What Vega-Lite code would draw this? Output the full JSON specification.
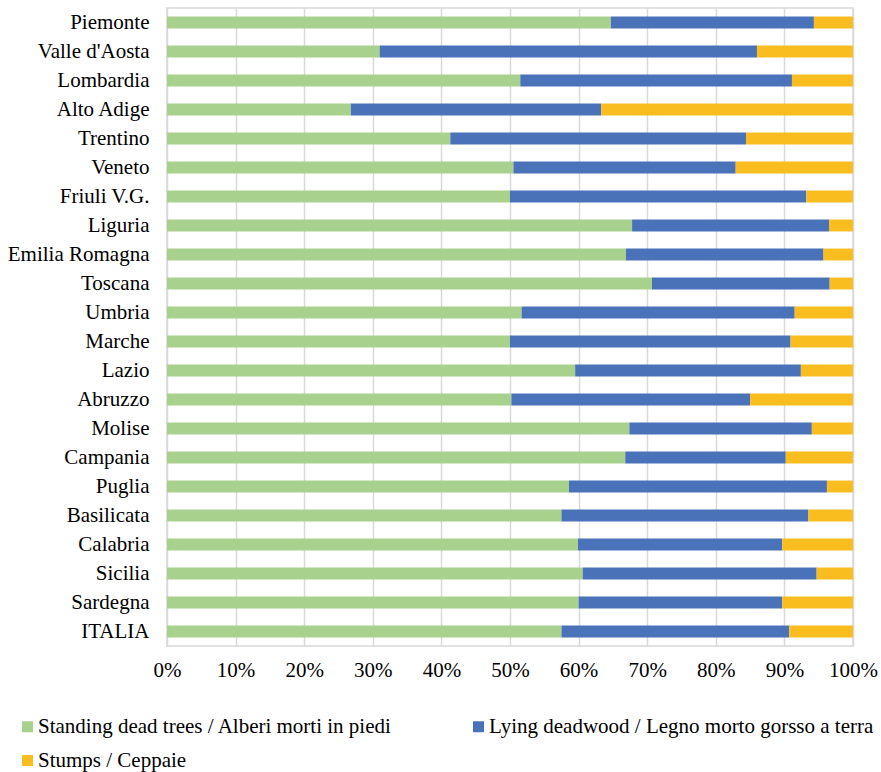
{
  "$schema": "https://vega.github.io/schema/vega-lite/v6.json",
  "width": 686,
  "height": 638,
  "autosize": "none",
  "padding": {"left": 167, "top": 8, "right": 28, "bottom": 126},
  "background": "white",
  "config": {
    "font": "Liberation Serif",
    "view": {"stroke": "#d9d9d9", "strokeWidth": 1.5}
  },
  "data": {
    "values": [
      {"r": "Piemonte", "t": "Standing dead trees / Alberi morti in piedi", "n": 1, "v": 64.7},
      {"r": "Piemonte", "t": "Lying deadwood / Legno morto gorsso a terra", "n": 2, "v": 29.6},
      {"r": "Piemonte", "t": "Stumps / Ceppaie", "n": 3, "v": 5.7},
      {"r": "Valle d'Aosta", "t": "Standing dead trees / Alberi morti in piedi", "n": 1, "v": 31.0},
      {"r": "Valle d'Aosta", "t": "Lying deadwood / Legno morto gorsso a terra", "n": 2, "v": 55.0},
      {"r": "Valle d'Aosta", "t": "Stumps / Ceppaie", "n": 3, "v": 14.0},
      {"r": "Lombardia", "t": "Standing dead trees / Alberi morti in piedi", "n": 1, "v": 51.5},
      {"r": "Lombardia", "t": "Lying deadwood / Legno morto gorsso a terra", "n": 2, "v": 39.6},
      {"r": "Lombardia", "t": "Stumps / Ceppaie", "n": 3, "v": 8.9},
      {"r": "Alto Adige", "t": "Standing dead trees / Alberi morti in piedi", "n": 1, "v": 26.8},
      {"r": "Alto Adige", "t": "Lying deadwood / Legno morto gorsso a terra", "n": 2, "v": 36.5},
      {"r": "Alto Adige", "t": "Stumps / Ceppaie", "n": 3, "v": 36.7},
      {"r": "Trentino", "t": "Standing dead trees / Alberi morti in piedi", "n": 1, "v": 41.3},
      {"r": "Trentino", "t": "Lying deadwood / Legno morto gorsso a terra", "n": 2, "v": 43.1},
      {"r": "Trentino", "t": "Stumps / Ceppaie", "n": 3, "v": 15.6},
      {"r": "Veneto", "t": "Standing dead trees / Alberi morti in piedi", "n": 1, "v": 50.5},
      {"r": "Veneto", "t": "Lying deadwood / Legno morto gorsso a terra", "n": 2, "v": 32.4},
      {"r": "Veneto", "t": "Stumps / Ceppaie", "n": 3, "v": 17.1},
      {"r": "Friuli V.G.", "t": "Standing dead trees / Alberi morti in piedi", "n": 1, "v": 50.0},
      {"r": "Friuli V.G.", "t": "Lying deadwood / Legno morto gorsso a terra", "n": 2, "v": 43.2},
      {"r": "Friuli V.G.", "t": "Stumps / Ceppaie", "n": 3, "v": 6.8},
      {"r": "Liguria", "t": "Standing dead trees / Alberi morti in piedi", "n": 1, "v": 67.8},
      {"r": "Liguria", "t": "Lying deadwood / Legno morto gorsso a terra", "n": 2, "v": 28.7},
      {"r": "Liguria", "t": "Stumps / Ceppaie", "n": 3, "v": 3.5},
      {"r": "Emilia Romagna", "t": "Standing dead trees / Alberi morti in piedi", "n": 1, "v": 66.9},
      {"r": "Emilia Romagna", "t": "Lying deadwood / Legno morto gorsso a terra", "n": 2, "v": 28.8},
      {"r": "Emilia Romagna", "t": "Stumps / Ceppaie", "n": 3, "v": 4.3},
      {"r": "Toscana", "t": "Standing dead trees / Alberi morti in piedi", "n": 1, "v": 70.7},
      {"r": "Toscana", "t": "Lying deadwood / Legno morto gorsso a terra", "n": 2, "v": 25.9},
      {"r": "Toscana", "t": "Stumps / Ceppaie", "n": 3, "v": 3.4},
      {"r": "Umbria", "t": "Standing dead trees / Alberi morti in piedi", "n": 1, "v": 51.7},
      {"r": "Umbria", "t": "Lying deadwood / Legno morto gorsso a terra", "n": 2, "v": 39.8},
      {"r": "Umbria", "t": "Stumps / Ceppaie", "n": 3, "v": 8.5},
      {"r": "Marche", "t": "Standing dead trees / Alberi morti in piedi", "n": 1, "v": 50.0},
      {"r": "Marche", "t": "Lying deadwood / Legno morto gorsso a terra", "n": 2, "v": 40.9},
      {"r": "Marche", "t": "Stumps / Ceppaie", "n": 3, "v": 9.1},
      {"r": "Lazio", "t": "Standing dead trees / Alberi morti in piedi", "n": 1, "v": 59.5},
      {"r": "Lazio", "t": "Lying deadwood / Legno morto gorsso a terra", "n": 2, "v": 32.9},
      {"r": "Lazio", "t": "Stumps / Ceppaie", "n": 3, "v": 7.6},
      {"r": "Abruzzo", "t": "Standing dead trees / Alberi morti in piedi", "n": 1, "v": 50.2},
      {"r": "Abruzzo", "t": "Lying deadwood / Legno morto gorsso a terra", "n": 2, "v": 34.8},
      {"r": "Abruzzo", "t": "Stumps / Ceppaie", "n": 3, "v": 15.0},
      {"r": "Molise", "t": "Standing dead trees / Alberi morti in piedi", "n": 1, "v": 67.4},
      {"r": "Molise", "t": "Lying deadwood / Legno morto gorsso a terra", "n": 2, "v": 26.6},
      {"r": "Molise", "t": "Stumps / Ceppaie", "n": 3, "v": 6.0},
      {"r": "Campania", "t": "Standing dead trees / Alberi morti in piedi", "n": 1, "v": 66.8},
      {"r": "Campania", "t": "Lying deadwood / Legno morto gorsso a terra", "n": 2, "v": 23.4},
      {"r": "Campania", "t": "Stumps / Ceppaie", "n": 3, "v": 9.8},
      {"r": "Puglia", "t": "Standing dead trees / Alberi morti in piedi", "n": 1, "v": 58.6},
      {"r": "Puglia", "t": "Lying deadwood / Legno morto gorsso a terra", "n": 2, "v": 37.6},
      {"r": "Puglia", "t": "Stumps / Ceppaie", "n": 3, "v": 3.8},
      {"r": "Basilicata", "t": "Standing dead trees / Alberi morti in piedi", "n": 1, "v": 57.5},
      {"r": "Basilicata", "t": "Lying deadwood / Legno morto gorsso a terra", "n": 2, "v": 36.0},
      {"r": "Basilicata", "t": "Stumps / Ceppaie", "n": 3, "v": 6.5},
      {"r": "Calabria", "t": "Standing dead trees / Alberi morti in piedi", "n": 1, "v": 59.9},
      {"r": "Calabria", "t": "Lying deadwood / Legno morto gorsso a terra", "n": 2, "v": 29.8},
      {"r": "Calabria", "t": "Stumps / Ceppaie", "n": 3, "v": 10.3},
      {"r": "Sicilia", "t": "Standing dead trees / Alberi morti in piedi", "n": 1, "v": 60.6},
      {"r": "Sicilia", "t": "Lying deadwood / Legno morto gorsso a terra", "n": 2, "v": 34.1},
      {"r": "Sicilia", "t": "Stumps / Ceppaie", "n": 3, "v": 5.3},
      {"r": "Sardegna", "t": "Standing dead trees / Alberi morti in piedi", "n": 1, "v": 60.0},
      {"r": "Sardegna", "t": "Lying deadwood / Legno morto gorsso a terra", "n": 2, "v": 29.7},
      {"r": "Sardegna", "t": "Stumps / Ceppaie", "n": 3, "v": 10.3},
      {"r": "ITALIA", "t": "Standing dead trees / Alberi morti in piedi", "n": 1, "v": 57.5},
      {"r": "ITALIA", "t": "Lying deadwood / Legno morto gorsso a terra", "n": 2, "v": 33.2},
      {"r": "ITALIA", "t": "Stumps / Ceppaie", "n": 3, "v": 9.3}
    ]
  },
  "mark": {"type": "bar"},
  "encoding": {
    "y": {
      "field": "r",
      "type": "nominal",
      "sort": null,
      "scale": {"paddingInner": 0.59, "paddingOuter": 0.295},
      "axis": {
        "title": null,
        "ticks": false,
        "domain": false,
        "grid": false,
        "labelFont": "Liberation Serif",
        "labelFontSize": 21,
        "labelColor": "#000000",
        "labelPadding": 18,
        "labelLimit": 300
      }
    },
    "x": {
      "field": "v",
      "type": "quantitative",
      "stack": "zero",
      "scale": {"domain": [0, 100], "nice": false},
      "axis": {
        "title": null,
        "values": [0, 10, 20, 30, 40, 50, 60, 70, 80, 90, 100],
        "labelExpr": "datum.value + '%'",
        "grid": true,
        "gridColor": "#d9d9d9",
        "gridWidth": 1.5,
        "ticks": false,
        "domain": false,
        "labelFont": "Liberation Serif",
        "labelFontSize": 21,
        "labelColor": "#000000",
        "labelPadding": 13,
        "labelFlush": false,
        "labelOverlap": false
      }
    },
    "color": {
      "field": "t",
      "type": "nominal",
      "sort": ["Standing dead trees / Alberi morti in piedi", "Lying deadwood / Legno morto gorsso a terra", "Stumps / Ceppaie"],
      "scale": {
        "domain": ["Standing dead trees / Alberi morti in piedi", "Lying deadwood / Legno morto gorsso a terra", "Stumps / Ceppaie"],
        "range": ["#A9D18E", "#4A72B8", "#F9BD20"]
      },
      "legend": {
        "title": null,
        "orient": "none",
        "legendX": -150,
        "legendY": 708,
        "direction": "horizontal",
        "columns": 2,
        "columnPadding": 75,
        "rowPadding": 12,
        "symbolType": "square",
        "symbolSize": 121,
        "symbolStrokeWidth": 0,
        "symbolOpacity": 1,
        "labelFont": "Liberation Serif",
        "labelFontSize": 21,
        "labelColor": "#000000",
        "labelLimit": 600,
        "labelOffset": 0
      }
    },
    "order": {"field": "n", "type": "quantitative"}
  }
}
